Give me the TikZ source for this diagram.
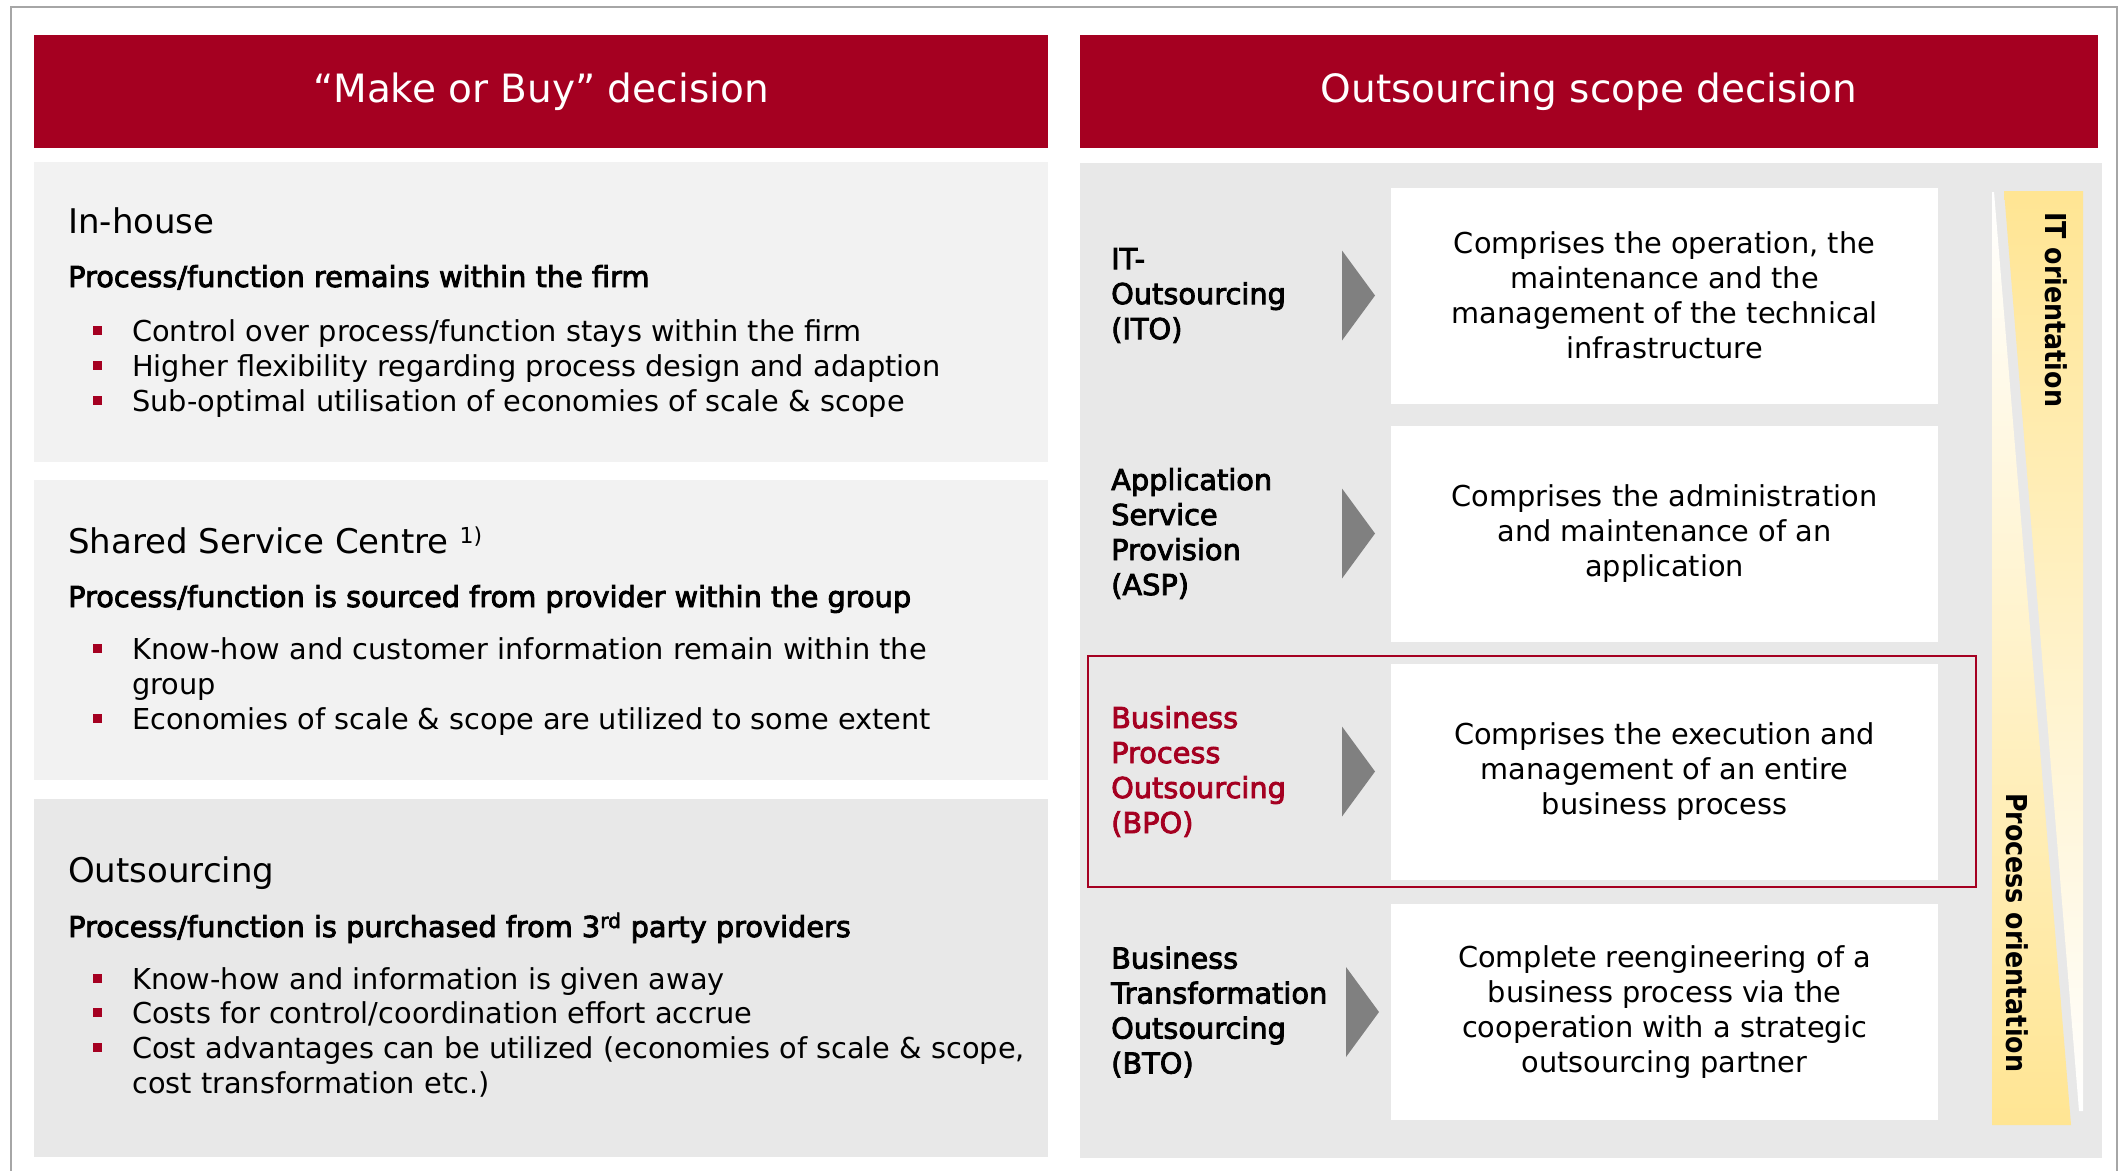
\documentclass[tikz,border=0pt]{standalone}
\usepackage{fontspec}
\setmainfont{DejaVu Sans}
\newfontfamily\semibold{DejaVu Sans}[FakeBold=3]
\newfontfamily\condbold{DejaVu Sans}[FakeStretch=0.88]
\usetikzlibrary{positioning}

\definecolor{mbred}{HTML}{A50021}
\definecolor{panelA}{HTML}{F2F2F2}
\definecolor{panelB}{HTML}{E8E8E8}
\definecolor{arrowgray}{HTML}{808080}
\definecolor{framegray}{HTML}{A6A6A6}
\definecolor{goldbar}{HTML}{FFE593}

\newcommand\bodyfont{\fontsize{28.8}{35}\selectfont}
\newcommand\headfont{\fontsize{34}{40}\selectfont}
\newcommand\barfont{\fontsize{39}{45}\selectfont}
\newcommand\subfont{\semibold\fontsize{28.8}{35}\selectfont}
\newcommand\vfont{\condbold\bfseries\fontsize{28.8}{35}\selectfont}

\begin{document}
\begin{tikzpicture}[x=1pt,y=-1pt,
    headbar/.style={fill=mbred,text=white,font=\barfont,inner sep=0pt,minimum height=113pt},
    heading/.style={anchor=base west,inner sep=0pt,font=\headfont},
    subhead/.style={anchor=base west,inner sep=0pt,font=\subfont},
    bullettext/.style={anchor=base west,inner sep=0pt,font=\bodyfont},
    sqdot/.style={fill=mbred,inner sep=0pt,minimum size=9pt},
    descbox/.style={fill=white,inner sep=0pt,minimum width=547pt,minimum height=216pt,align=center,font=\bodyfont},
    rowlabel/.style={anchor=west,inner sep=0pt,align=left,font=\subfont},
    chevron/.style={fill=arrowgray},
    vtext/.style={rotate=-90,anchor=base west,inner sep=0pt,font=\vfont}]
    \useasboundingbox (0,0) rectangle (2119,1170);
    \draw[framegray,line width=2pt] (11,7) rectangle (2117,1190);

    % left column: make or buy
    \node[headbar,minimum width=1014pt] (mob) at (541,91.5) {“Make or Buy” decision};
    \fill[panelA] (34,162) rectangle (1048,462);
    \fill[panelA] (34,480) rectangle (1048,780);
    \fill[panelB] (34,799) rectangle (1048,1157);

    \node[heading] (ih-t) at (68,233) {In-house};
    \node[subhead] (ih-s) at (68,287) {Process/function remains within the firm};
    \foreach \y/\t [count=\i] in {341/{Control over process/function stays within the firm},
        376/{Higher flexibility regarding process design and adaption},
        411/{Sub-optimal utilisation of economies of scale \& scope}} {
        \node[sqdot] (ih-d\i) at (97.5,\y-10.5) {};
        \node[bullettext] (ih-\i) at (132,\y) {\t};
    }

    \node[heading] (ssc-t) at (68,553) {Shared Service Centre \raisebox{9.5pt}{\fontsize{22}{22}\selectfont 1)}};
    \node[subhead] (ssc-s) at (68,607) {Process/function is sourced from provider within the group};
    \node[sqdot] (ssc-d1) at (97.5,648.5) {};
    \node[bullettext] (ssc-1) at (132,659) {Know-how and customer information remain within the};
    \node[bullettext] (ssc-1b) at (132,694) {group};
    \node[sqdot] (ssc-d2) at (97.5,718.5) {};
    \node[bullettext] (ssc-2) at (132,729) {Economies of scale \& scope are utilized to some extent};

    \node[heading] (os-t) at (68,882) {Outsourcing};
    \node[subhead] (os-s) at (68,937) {Process/function is purchased from 3\textsuperscript{rd} party providers};
    \foreach \y/\t [count=\i] in {989/{Know-how and information is given away},
        1023/{Costs for control/coordination effort accrue},
        1058/{Cost advantages can be utilized (economies of scale \& scope,}} {
        \node[sqdot] (os-d\i) at (97.5,\y-10.5) {};
        \node[bullettext] (os-\i) at (132,\y) {\t};
    }
    \node[bullettext] (os-3b) at (132,1093) {cost transformation etc.)};

    % right column: outsourcing scope
    \node[headbar,minimum width=1018pt] (osd) at (1589,91.5) {Outsourcing scope decision};
    \fill[panelB] (1080,163) rectangle (2102,1158);

    \node[descbox] (d-ito) at (1664.5,295.5) {Comprises the operation, the\\maintenance and the\\management of the technical\\infrastructure};
    \node[descbox] (d-asp) at (1664.5,533.5) {Comprises the administration\\and maintenance of an\\application};
    \node[descbox] (d-bpo) at (1664.5,771.5) {Comprises the execution and\\management of an entire\\business process};
    \node[descbox] (d-bto) at (1664.5,1012) {Complete reengineering of a\\business process via the\\cooperation with a strategic\\outsourcing partner};

    \node[rowlabel] (l-ito) at (1111,295.5) {IT-\\Outsourcing\\(ITO)};
    \node[rowlabel] (l-asp) at (1111,533.5) {Application\\Service\\Provision\\(ASP)};
    \node[rowlabel,text=mbred] (l-bpo) at (1111,771.5) {Business\\Process\\Outsourcing\\(BPO)};
    \node[rowlabel] (l-bto) at (1111,1012) {Business\\Transformation\\Outsourcing\\(BTO)};

    \foreach \y in {295.5,533.5,771.5}
        \fill[chevron] (1342,\y-45) -- (1375,\y) -- (1342,\y+45) -- cycle;
    \fill[chevron] (1346,967) -- (1379,1012) -- (1346,1057) -- cycle;

    \draw[mbred,line width=2pt] (1088,656) rectangle (1976,887);

    % orientation bar
    \shade[top color=goldbar,bottom color=white] (2004,191) -- (2083,191) -- (2083,1111) -- (2079,1111) -- cycle;
    \shade[top color=white,bottom color=goldbar] (1992,192) -- (1994,192) -- (2071,1125) -- (1992,1125) -- cycle;
    \node[vtext] (it-or) at (2045,212) {IT orientation};
    \node[vtext] (pr-or) at (2006,793) {Process orientation};
\end{tikzpicture}
\end{document}
